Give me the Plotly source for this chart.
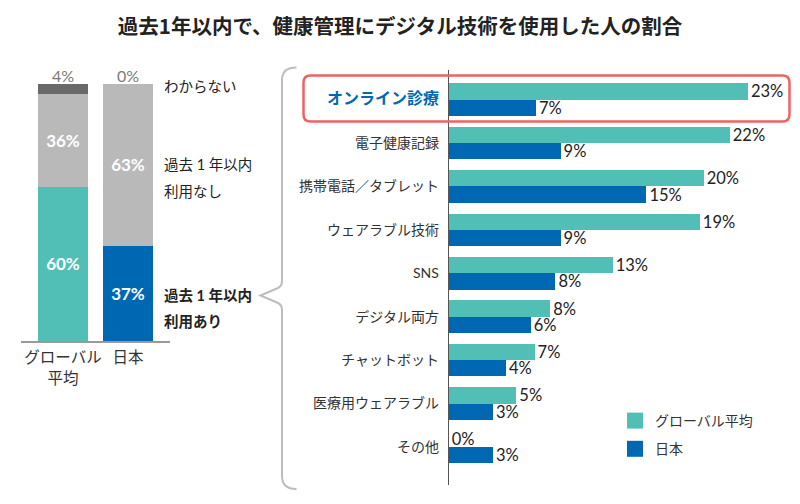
import plotly.graph_objects as go

# ---------------- data ----------------
title_text = "過去1年以内で、健康管理にデジタル技術を使用した人の割合"

left_groups = ["グローバル平均", "日本"]
left_ticktext = ["グローバル<br>平均", "日本"]
used = [60, 37]          # 過去1年以内 利用あり
not_used = [36, 63]      # 過去1年以内 利用なし
unknown = [4, 0]         # わからない

categories = ["オンライン診療", "電子健康記録", "携帯電話／タブレット", "ウェアラブル技術",
              "SNS", "デジタル両方", "チャットボット", "医療用ウェアラブル", "その他"]
global_vals = [23.0, 21.6, 19.6, 19.3, 12.6, 7.8, 6.6, 5.2, 0.0]
japan_vals = [6.7, 8.6, 15.2, 8.6, 8.2, 6.3, 4.4, 3.4, 3.4]

series_names = ["グローバル平均", "日本"]

# ---------------- style ----------------
TEAL = "#52BFB7"
BLUE = "#0068B3"
GRAY = "#B9B9B9"
DGRAY = "#696969"
FONT = "Noto Sans CJK JP"
NUMFONT = "Lato, 'Noto Sans CJK JP'"
W, H = 800, 504


def px(x):
    return x / W


def py(y):
    return 1 - y / H


fig = go.Figure()

# ---- left stacked bars ----
fig.add_trace(go.Bar(
    x=left_groups, y=used, width=0.77, offsetgroup="L",
    marker=dict(color=[TEAL, BLUE], line=dict(width=0)),
    text=[f"{v}%" for v in used], textposition="inside", insidetextanchor="middle",
    textfont=dict(color="white", size=17, family=NUMFONT, weight="bold"),
    constraintext="none", showlegend=False, xaxis="x", yaxis="y", hoverinfo="skip"))
fig.add_trace(go.Bar(
    x=left_groups, y=not_used, width=0.77, offsetgroup="L",
    marker=dict(color=GRAY, line=dict(width=0)),
    text=[f"{v}%" for v in not_used], textposition="inside", insidetextanchor="middle",
    textfont=dict(color="white", size=17, family=NUMFONT, weight="bold"),
    constraintext="none", showlegend=False, xaxis="x", yaxis="y", hoverinfo="skip"))
fig.add_trace(go.Bar(
    x=left_groups, y=unknown, width=0.77, offsetgroup="L",
    marker=dict(color=DGRAY, line=dict(width=0)),
    textposition="none", showlegend=False, xaxis="x", yaxis="y", hoverinfo="skip"))

for g, a, b, c in zip(left_groups, used, not_used, unknown):
    fig.add_annotation(x=g, y=a + b + c, xref="x", yref="y", text=f"{c}%",
                       showarrow=False, yanchor="bottom", yshift=-3,
                       font=dict(size=16, color="#7a7a7a", family=NUMFONT))

# ---- right grouped horizontal bars ----
fig.add_trace(go.Bar(
    y=categories, x=global_vals, orientation="h", name=series_names[0], offsetgroup="g",
    marker=dict(color=TEAL, line=dict(width=0)),
    texttemplate="%{x:.0f}%", textposition="outside", constraintext="none", cliponaxis=False,
    textfont=dict(size=16.5, color="#222", family=NUMFONT),
    showlegend=False, xaxis="x2", yaxis="y2", hoverinfo="skip"))
fig.add_trace(go.Bar(
    y=categories, x=japan_vals, orientation="h", name=series_names[1], offsetgroup="j",
    marker=dict(color=BLUE, line=dict(width=0)),
    texttemplate="%{x:.0f}%", textposition="outside", constraintext="none", cliponaxis=False,
    textfont=dict(size=16.5, color="#222", family=NUMFONT),
    showlegend=False, xaxis="x2", yaxis="y2", hoverinfo="skip"))

# legend entries (square markers)
for nm, col, grp in [(series_names[0], TEAL, "g"), (series_names[1], BLUE, "j")]:
    fig.add_trace(go.Scatter(
        x=[None], y=[None], mode="markers", name=nm, legendgroup=grp,
        marker=dict(symbol="square", size=16, color=col, line=dict(width=0)),
        xaxis="x2", yaxis="y2", showlegend=True))

ticktext = [f"<b><span style='color:{BLUE};font-size:16px'>{categories[0]}</span></b>"] + categories[1:]

fig.update_layout(
    width=W, height=H,
    margin=dict(l=0, r=0, t=0, b=0),
    paper_bgcolor="white", plot_bgcolor="white",
    font=dict(family=FONT, color="#333", size=14),
    barmode="stack",
    title=dict(text=f"<b>{title_text}</b>", x=0.5, xanchor="center", y=py(27), yanchor="middle",
               font=dict(size=20.5, color="#222", family=FONT)),
    xaxis=dict(domain=[px(20.75), px(170.25)], type="category", range=[-0.65, 1.65],
               tickvals=left_groups, ticktext=left_ticktext, showline=True, linecolor="#9a9a9a",
               linewidth=1.5, showgrid=False, zeroline=False, ticks="", ticklabelstandoff=2,
               tickfont=dict(size=15.5, color="#333", family=FONT), fixedrange=True),
    yaxis=dict(domain=[py(341), py(84)], range=[0, 100], visible=False, fixedrange=True),
    xaxis2=dict(domain=[px(448.7), 1.0], range=[0, 27.0], visible=False, fixedrange=True),
    yaxis2=dict(domain=[py(485), py(70)], range=[8.875, -0.68], anchor="x2", type="category",
                tickvals=categories, ticktext=ticktext, showline=True, linecolor="#555",
                linewidth=1, showgrid=False, ticks="", ticklabelstandoff=6,
                tickfont=dict(size=14, color="#333", family=NUMFONT), fixedrange=True),
    bargap=0.25, bargroupgap=0,
    legend=dict(x=px(615), xanchor="left", y=py(405), yanchor="top",
                font=dict(size=14, color="#333", family=FONT), tracegroupgap=7,
                itemsizing="trace", bgcolor="rgba(0,0,0,0)"),
)

# left side labels
label_font = dict(size=14.5, color="#222", family=NUMFONT)
side_labels = [("わからない", 86, False), ("過去 1 年以内", 165, False), ("利用なし", 191, False),
               ("過去 1 年以内", 295, True), ("利用あり", 321, True)]
for txt, yy, bold in side_labels:
    fig.add_annotation(x=px(162), y=py(yy), xref="paper", yref="paper",
                       text=f"<b>{txt}</b>" if bold else txt, showarrow=False,
                       xanchor="left", yanchor="middle", font=label_font)

# brace
pts = "M {},{} Q {},{} {},{} L {},{} Q {},{} {},{} L {},{} L {},{} Q {},{} {},{} L {},{} Q {},{} {},{}"
raw = [(296.5, 67.5), (282, 67.5), (282, 80), (282, 281), (282, 286), (278, 288),
       (260.5, 295.5), (278, 303), (282, 305), (282, 310), (282, 476), (282, 489), (296.5, 489)]
flat = []
for (a, b) in raw:
    flat += [round(px(a), 5), round(py(b), 5)]
fig.add_shape(type="path", xref="paper", yref="paper", path=pts.format(*flat),
              line=dict(color="#BDBDBD", width=2))

# red rounded rectangle
x0, x1, y0, y1, r = 303.5, 789.5, 75.5, 121.5, 7
rr = [(x0 + r, y0), (x1 - r, y0), (x1, y0), (x1, y0 + r), (x1, y1 - r), (x1, y1), (x1 - r, y1),
      (x0 + r, y1), (x0, y1), (x0, y1 - r), (x0, y0 + r), (x0, y0), (x0 + r, y0)]
c = [(round(px(a), 5), round(py(b), 5)) for a, b in rr]
path = (f"M {c[0][0]},{c[0][1]} L {c[1][0]},{c[1][1]} Q {c[2][0]},{c[2][1]} {c[3][0]},{c[3][1]} "
        f"L {c[4][0]},{c[4][1]} Q {c[5][0]},{c[5][1]} {c[6][0]},{c[6][1]} "
        f"L {c[7][0]},{c[7][1]} Q {c[8][0]},{c[8][1]} {c[9][0]},{c[9][1]} "
        f"L {c[10][0]},{c[10][1]} Q {c[11][0]},{c[11][1]} {c[12][0]},{c[12][1]} Z")
fig.add_shape(type="path", xref="paper", yref="paper", path=path,
              line=dict(color="#F06262", width=2.5))

fig.write_html("out.html", config={"displayModeBar": False},
               post_script="document.body.style.margin='0';")
